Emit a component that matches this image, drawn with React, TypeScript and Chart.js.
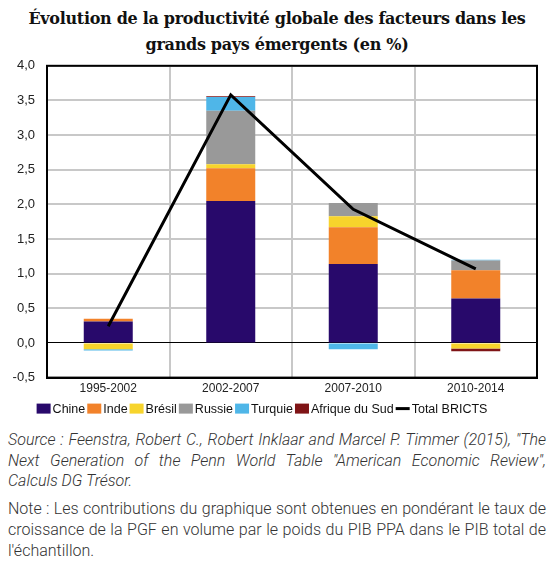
import React, { useEffect, useRef } from "react";
import { Chart, registerables } from "chart.js";

Chart.register(...registerables);

const categories = ["1995-2002", "2002-2007", "2007-2010", "2010-2014"];
const chine = [0.31, 2.05, 1.14, 0.64];
const inde = [0.04, 0.47, 0.53, 0.41];
const bresil = [-0.09, 0.06, 0.16, -0.08];
const russie = [0, 0.77, 0.19, 0.14];
const turquie = [-0.02, 0.2, -0.09, 0.01];
const afriqueDuSud = [0, 0.01, 0, -0.04];
const totalBricts = [0.24, 3.58, 1.93, 1.07];

const yMin = -0.5;
const yMax = 4;
const yStep = 0.5;

const sourceLines = [
  "Source : Feenstra, Robert C., Robert Inklaar and Marcel P. Timmer (2015), \"The",
  "Next Generation of the Penn World Table \"American Economic Review\",",
  "Calculs DG Trésor.",
];
const noteLines = [
  "Note : Les contributions du graphique sont obtenues en pondérant le taux de",
  "croissance de la PGF en volume par le poids du PIB PPA dans le PIB total de",
  "l'échantillon.",
];

const LEGEND_FONT = "12.5px 'Liberation Sans', Arial, sans-serif";

const frameBorder = {
  id: "frameBorder",
  afterDraw(chart: any) {
    const { ctx, chartArea } = chart;
    ctx.save();
    ctx.strokeStyle = "#000";
    ctx.lineWidth = 2;
    ctx.strokeRect(chartArea.left, chartArea.top, chartArea.right - chartArea.left, chartArea.bottom - chartArea.top);
    ctx.restore();
  },
};

const compactLegend = {
  id: "compactLegend",
  afterDraw(chart: any) {
    const { ctx, chartArea } = chart;
    const boxW = 14;
    const boxH = 10;
    const gapText = 2;
    const gapItem = 2;
    ctx.save();
    ctx.font = LEGEND_FONT;
    const items = chart.data.datasets.map((d: any) => ({
      text: d.label,
      color: d.type === "line" ? d.borderColor : d.backgroundColor,
      line: d.type === "line",
      w: ctx.measureText(d.label).width,
    }));
    const total = items.reduce((s: number, it: any) => s + boxW + gapText + it.w, 0) + gapItem * (items.length - 1);
    let x = chart.width / 2 - 15 - total / 2;
    const cy = chartArea.bottom + 31;
    ctx.textBaseline = "middle";
    for (const it of items) {
      if (it.line) {
        ctx.strokeStyle = it.color;
        ctx.lineWidth = 3;
        ctx.beginPath();
        ctx.moveTo(x, cy);
        ctx.lineTo(x + boxW, cy);
        ctx.stroke();
      } else {
        ctx.fillStyle = it.color;
        ctx.fillRect(x, cy - boxH / 2, boxW, boxH);
      }
      x += boxW + gapText;
      ctx.fillStyle = "#111";
      ctx.fillText(it.text, x, cy + 0.5);
      x += it.w + gapItem;
    }
    ctx.restore();
  },
};

function ChartBox() {
  const ref = useRef<HTMLCanvasElement | null>(null);
  useEffect(() => {
    document.body.style.margin = "0";
    if (!ref.current) return;
    const barDs = (label: string, data: number[], color: string) => ({
      type: "bar" as const,
      label,
      data,
      backgroundColor: color,
      borderWidth: 0,
      order: 2,
    });
    const chart = new Chart(ref.current, {
      data: {
        labels: categories,
        datasets: [
          barDs("Chine", chine, "#28096b"),
          barDs("Inde", inde, "#f2822a"),
          barDs("Brésil", bresil, "#f7d42c"),
          barDs("Russie", russie, "#999999"),
          barDs("Turquie", turquie, "#4fb6e8"),
          barDs("Afrique du Sud", afriqueDuSud, "#7f1416"),
          {
            type: "line" as const,
            label: "Total BRICTS",
            data: totalBricts,
            borderColor: "#000",
            backgroundColor: "#000",
            borderWidth: 3,
            pointRadius: 0,
            tension: 0,
            order: 0,
          } as any,
        ],
      },
      options: {
        animation: false,
        responsive: true,
        maintainAspectRatio: false,
        layout: { padding: { top: 10, right: 17, left: 0, bottom: 30 } },
        datasets: { bar: { categoryPercentage: 1, barPercentage: 0.4 } } as any,
        scales: {
          x: {
            stacked: true,
            grid: { color: "#c8c8c8", lineWidth: 2, drawTicks: false, offset: true },
            border: { color: "#000", width: 2 },
            ticks: { color: "#222", font: { family: "'Liberation Sans', Arial", size: 12 }, padding: 4 },
          },
          y: {
            stacked: true,
            min: yMin,
            max: yMax,
            grid: {
              color: (c: any) => (c.tick && c.tick.value === 0 ? "#000" : "#c8c8c8"),
              lineWidth: (c: any) => (c.tick && c.tick.value === 0 ? 1 : 2),
              drawTicks: false,
            },
            border: { color: "#000", width: 2 },
            ticks: {
              stepSize: yStep,
              color: "#222",
              font: { family: "'Liberation Sans', Arial", size: 13 },
              padding: 12,
              callback: (v: any) => Number(v).toFixed(1).replace(".", ","),
            },
            afterFit: (s: any) => {
              s.width = 47;
            },
          },
        },
        plugins: {
          title: { display: false },
          tooltip: { enabled: false },
          legend: { display: false },
        },
      },
      plugins: [frameBorder, compactLegend],
    } as any);
    return () => chart.destroy();
  }, []);
  return <canvas ref={ref} />;
}

function Para({ lines, italic, marginTop }: { lines: string[]; italic?: boolean; marginTop?: number }) {
  return (
    <div style={{ fontStyle: italic ? "italic" : "normal", marginTop: marginTop || 0 }}>
      {lines.map((l, i) => (
        <div
          key={i}
          style={{
            textAlign: i < lines.length - 1 ? "justify" : "left",
            textAlignLast: i < lines.length - 1 ? "justify" : "left",
            whiteSpace: "nowrap",
          } as any}
        >
          {l}
        </div>
      ))}
    </div>
  );
}

export default function App() {
  return (
    <div style={{ position: "relative", width: 554, height: 564, background: "#fff", overflow: "hidden" }}>
      <div
        style={{
          position: "absolute",
          top: 0,
          left: 0,
          width: 554,
          paddingTop: 6,
          textAlign: "center",
          fontFamily: "'DejaVu Serif'",
          fontWeight: "bold",
          fontSize: 16,
          letterSpacing: "-0.3px",
          lineHeight: "25.5px",
          color: "#111",
        }}
      >
        Évolution de la productivité globale des facteurs dans les
        <br />
        grands pays émergents (en %)
      </div>
      <div style={{ position: "absolute", top: 46, left: 0, width: 554, height: 384 }}>
        <ChartBox />
      </div>
      <div
        style={{
          position: "absolute",
          top: 430,
          left: 8,
          width: 538,
          fontFamily: "Roboto",
          fontWeight: 300,
          fontSize: 16,
          lineHeight: "20.7px",
          color: "#333",
        }}
      >
        <Para lines={sourceLines} italic />
        <Para lines={noteLines} marginTop={7} />
      </div>
    </div>
  );
}
